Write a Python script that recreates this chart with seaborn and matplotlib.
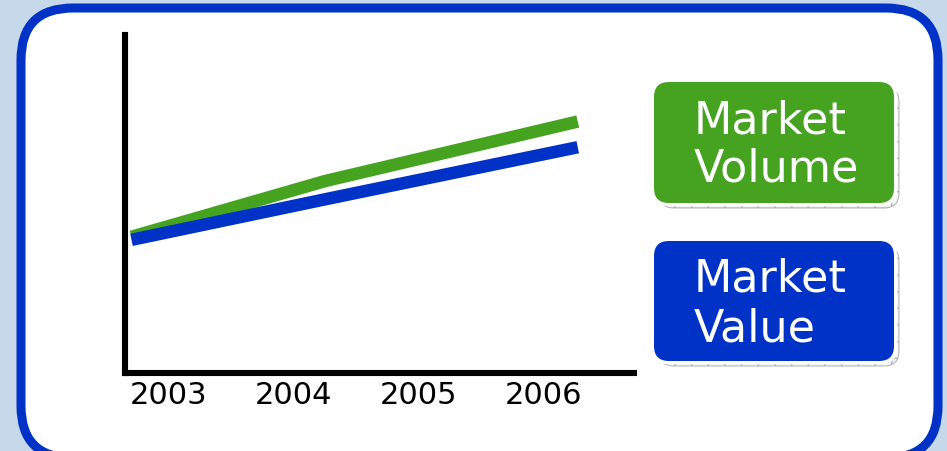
import numpy as np
import pandas as pd
import matplotlib.pyplot as plt
from matplotlib.patches import FancyBboxPatch
import seaborn as sns

sns.set_theme(style="white")
plt.rcParams["font.family"] = ["DejaVu Sans"]

# Data (arbitrary index units)
years = [2003, 2004, 2005, 2006]
volume_x = [2002.70, 2004.25, 2006.27]
volume_y = [40.3, 56.8, 74.4]
value_x = [2002.70, 2004.25, 2006.27]
value_y = [39.4, 51.4, 66.8]
legend_labels = ["Market\nVolume", "Market\nValue"]

GREEN = "#45a31f"
BLUE = "#0032c8"

df = pd.DataFrame({
    "Year": volume_x + value_x,
    "Index": volume_y + value_y,
    "Series": ["Market Volume"] * len(volume_x) + ["Market Value"] * len(value_x),
})

W, H = 947, 451
fig = plt.figure(figsize=(W / 100, H / 100), dpi=100)
fig.patch.set_facecolor("#c6d9ea")

# background layer in pixel coordinates
bg = fig.add_axes([0, 0, 1, 1], zorder=0)
bg.set_xlim(0, W)
bg.set_ylim(H, 0)
bg.axis("off")

panel = FancyBboxPatch((21, 8), 917, 450, boxstyle="round,pad=0,rounding_size=52",
                       facecolor="white", edgecolor=BLUE, linewidth=6.5)
bg.add_patch(panel)

# legend boxes with hatched shadow
boxes = [(654, 82, 240, 121, GREEN), (654, 241, 240, 120, BLUE)]
for (x0, y0, w, h, col), label in zip(boxes, legend_labels):
    shadow = FancyBboxPatch((x0 + 5, y0 + 5), w, h, boxstyle="round,pad=0,rounding_size=15",
                            facecolor="#f4f4f4", edgecolor="#b0b0b0", linewidth=0.7, hatch="+")
    bg.add_patch(shadow)
    gap = FancyBboxPatch((x0, y0), w + 1.5, h + 1.5, boxstyle="round,pad=0,rounding_size=15",
                         facecolor="white", edgecolor="white", linewidth=2.5)
    bg.add_patch(gap)
    box = FancyBboxPatch((x0, y0), w, h, boxstyle="round,pad=0,rounding_size=15",
                         facecolor=col, edgecolor="none")
    bg.add_patch(box)
    line1, line2 = label.split("\n")
    bg.text(x0 + 40, y0 + 51, line1, color="white", fontsize=32, va="baseline", ha="left")
    bg.text(x0 + 40, y0 + 100, line2, color="white", fontsize=32, va="baseline", ha="left")

# main chart
ax = fig.add_axes([125 / W, 1 - 373 / H, (634 - 125) / W, (373 - 35) / H], zorder=1)
ax.patch.set_alpha(0)
sns.lineplot(data=df, x="Year", y="Index", hue="Series",
             palette={"Market Volume": GREEN, "Market Value": BLUE},
             linewidth=9, legend=False, ax=ax, sort=False,
             solid_capstyle="butt", solid_joinstyle="round")

ax.set_xlim(2002.648, 2006.72)
ax.set_ylim(0, 100)
ax.set_xticks(years)
ax.set_xticklabels([str(y) for y in years])
ax.set_yticks([])
ax.set_xlabel("")
ax.set_ylabel("")
ax.tick_params(axis="x", length=0, pad=6, labelsize=22, colors="black")
for side in ["top", "right"]:
    ax.spines[side].set_visible(False)
for side in ["left", "bottom"]:
    ax.spines[side].set_color("black")
    ax.spines[side].set_linewidth(4.4)

fig.savefig("out.png", dpi=100, facecolor=fig.get_facecolor())
